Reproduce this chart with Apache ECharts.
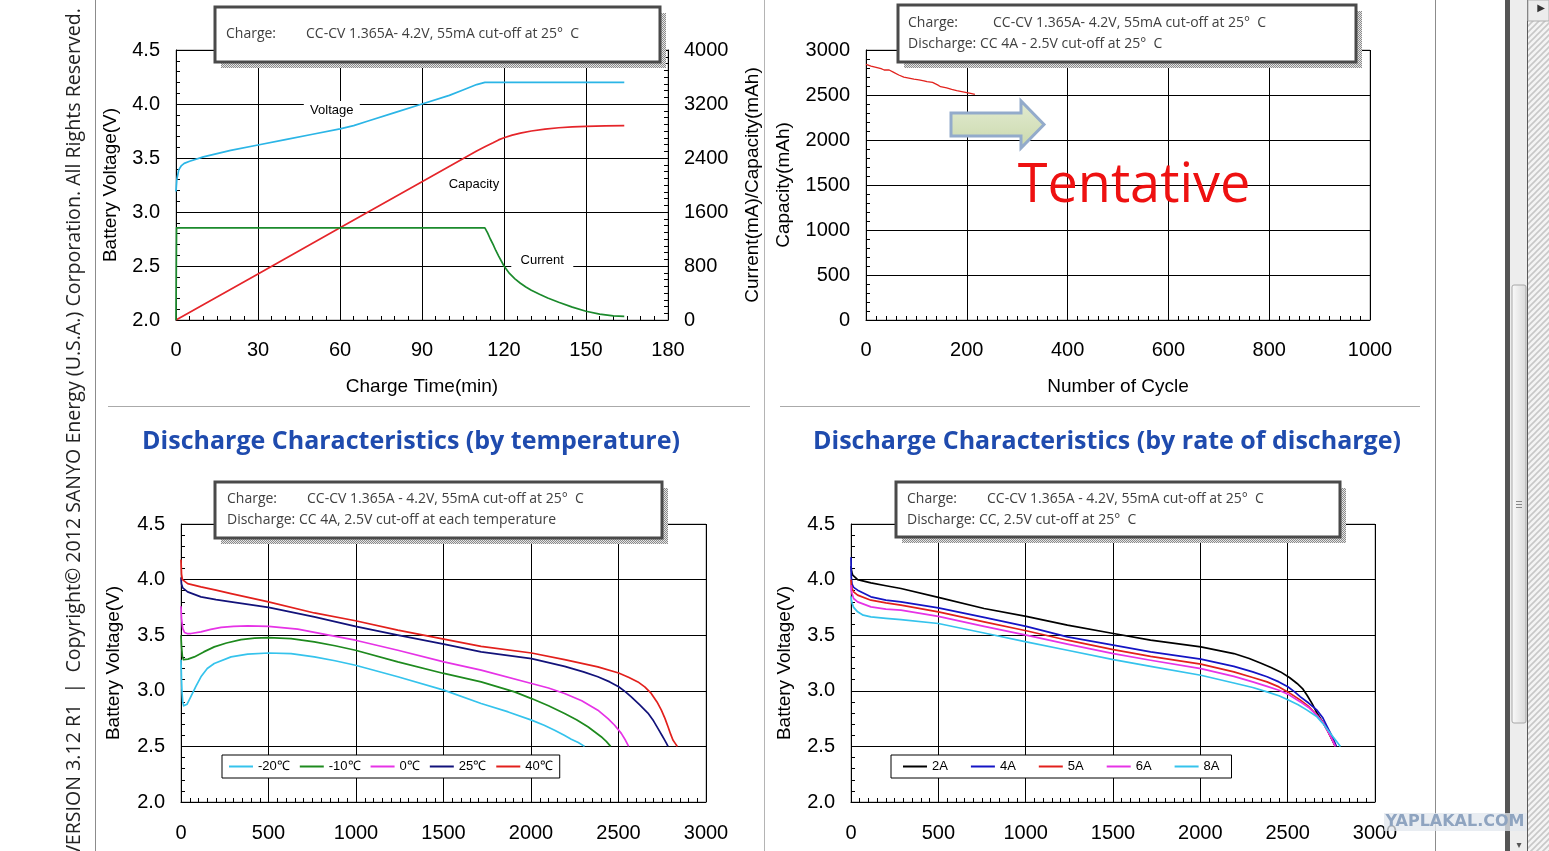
<!DOCTYPE html>
<html><head><meta charset="utf-8">
<script src="https://cdn.jsdelivr.net/npm/echarts@6/dist/echarts.min.js"></script>
<style>html,body{margin:0;padding:0;background:#fff;}#c{width:1549px;height:851px;}</style>
</head><body><div id="c"></div>
<script>
// ---------- Chart 1: charge characteristics ----------
const chargeVoltage = [[0,3.19],[0.3,3.3],[1,3.39],[2,3.43],[3,3.45],[5,3.47],[10,3.51],[20,3.57],[30,3.62],[40,3.67],[50,3.72],[60,3.77],[65,3.8],[70,3.84],[80,3.92],[90,4.0],[100,4.08],[105,4.13],[110,4.18],[113,4.2],[164,4.2]];
const chargeCapacity = [[0,0],[30,683],[60,1365],[90,2048],[110,2502],[113,2565],[116,2625],[118,2668],[120,2700],[123,2738],[126,2768],[130,2800],[135,2828],[140,2848],[145,2860],[150,2868],[157,2875],[164,2880]];
const chargeCurrent = [[0,0],[0.2,1365],[113,1365],[114,1290],[115,1200],[116,1120],[117,1030],[118,950],[120,800],[122,690],[124,610],[126,545],[128,490],[130,440],[133,380],[136,325],[140,262],[145,190],[150,130],[155,88],[160,62],[164,55]];
// ---------- Chart 2: cycle life ----------
const cycleCapacity = [[0,2840],[10,2822],[20,2808],[30,2792],[36,2778],[38,2800],[46,2778],[55,2752],[65,2722],[75,2698],[85,2688],[95,2676],[105,2668],[115,2658],[121,2648],[124,2668],[132,2640],[142,2612],[148,2592],[151,2605],[160,2578],[170,2562],[180,2548],[190,2537],[200,2526],[210,2516],[216,2508]];
// ---------- Chart 3: discharge by temperature (mAh, V) ----------
const tempNames = ['-20℃','-10℃','0℃','25℃','40℃'];
const tempM20 = [[0,3.28],[3,3.1],[6,2.98],[10,2.9],[15,2.865],[23,2.856],[35,2.88],[57,2.95],[85,3.04],[114,3.126],[150,3.2],[190,3.245],[286,3.305],[381,3.33],[500,3.34],[629,3.335],[762,3.305],[880,3.27],[997,3.23],[1239,3.126],[1502,3.006],[1715,2.886],[1870,2.81],[2003,2.736],[2075,2.69],[2135,2.645],[2190,2.6],[2230,2.565],[2270,2.535],[2306,2.5]];
const tempM10 = [[0,3.5],[3,3.4],[8,3.31],[14,3.28],[23,3.275],[40,3.285],[76,3.305],[130,3.35],[190,3.395],[260,3.43],[343,3.46],[420,3.474],[500,3.479],[629,3.47],[762,3.44],[880,3.405],[997,3.365],[1239,3.26],[1502,3.156],[1715,3.08],[1906,2.99],[2003,2.93],[2100,2.865],[2192,2.796],[2260,2.74],[2325,2.677],[2365,2.63],[2401,2.587],[2430,2.545],[2455,2.5]];
const temp0 = [[0,3.76],[3,3.65],[10,3.56],[20,3.525],[35,3.515],[57,3.515],[114,3.53],[170,3.553],[229,3.57],[300,3.58],[381,3.584],[500,3.58],[667,3.554],[830,3.505],[997,3.455],[1239,3.365],[1502,3.26],[1715,3.186],[2003,3.066],[2100,3.025],[2192,2.976],[2290,2.91],[2382,2.826],[2440,2.75],[2478,2.69],[2516,2.617],[2540,2.555],[2558,2.5]];
const temp25 = [[0,4.02],[3,3.96],[10,3.925],[38,3.89],[114,3.845],[200,3.82],[286,3.8],[500,3.75],[762,3.665],[997,3.58],[1239,3.5],[1502,3.42],[1715,3.35],[2003,3.29],[2192,3.22],[2300,3.17],[2382,3.126],[2450,3.08],[2501,3.036],[2540,2.99],[2573,2.946],[2620,2.875],[2668,2.8],[2700,2.73],[2726,2.66],[2748,2.6],[2764,2.557],[2775,2.525],[2783,2.5]];
const temp40 = [[0,4.18],[3,4.05],[8,4.0],[38,3.964],[114,3.934],[200,3.905],[286,3.874],[500,3.8],[762,3.7],[997,3.63],[1239,3.545],[1502,3.464],[1715,3.4],[2003,3.34],[2192,3.28],[2382,3.215],[2501,3.16],[2560,3.12],[2611,3.08],[2650,3.035],[2687,2.976],[2720,2.9],[2745,2.826],[2766,2.75],[2783,2.677],[2798,2.61],[2811,2.557],[2825,2.525],[2836,2.5]];
// ---------- Chart 4: discharge by rate (mAh, V) ----------
const rateNames = ['2A','4A','5A','6A','8A'];
const rate2A = [[0,4.12],[4,4.07],[10,4.04],[38,4.0],[114,3.97],[200,3.945],[286,3.92],[500,3.84],[762,3.74],[1003,3.67],[1239,3.59],[1502,3.515],[1715,3.455],[2003,3.395],[2192,3.335],[2280,3.29],[2344,3.25],[2405,3.21],[2459,3.17],[2510,3.12],[2554,3.066],[2585,3.02],[2611,2.96],[2640,2.885],[2668,2.8],[2700,2.72],[2726,2.65],[2748,2.58],[2764,2.53],[2773,2.5]];
const rate4A = [[0,4.2],[2,4.02],[6,3.96],[15,3.93],[38,3.905],[114,3.845],[200,3.815],[286,3.8],[500,3.745],[762,3.66],[1003,3.58],[1239,3.485],[1502,3.41],[1715,3.35],[2003,3.285],[2192,3.22],[2300,3.17],[2382,3.126],[2450,3.08],[2501,3.036],[2540,2.99],[2573,2.946],[2620,2.89],[2668,2.826],[2700,2.76],[2726,2.677],[2748,2.61],[2764,2.557],[2779,2.5]];
const rate5A = [[0,4.0],[2,3.95],[6,3.92],[15,3.89],[38,3.86],[114,3.815],[200,3.79],[286,3.77],[500,3.71],[762,3.62],[1003,3.54],[1239,3.455],[1502,3.37],[1715,3.31],[2003,3.24],[2192,3.17],[2300,3.12],[2382,3.08],[2450,3.035],[2501,2.99],[2573,2.916],[2620,2.86],[2668,2.78],[2700,2.72],[2726,2.647],[2752,2.57],[2773,2.5]];
const rate6A = [[0,3.95],[2,3.9],[6,3.875],[15,3.83],[38,3.8],[114,3.755],[200,3.735],[286,3.725],[500,3.67],[762,3.58],[1003,3.5],[1239,3.42],[1502,3.335],[1715,3.275],[2003,3.2],[2192,3.13],[2300,3.08],[2382,3.04],[2450,3.005],[2501,2.97],[2573,2.9],[2620,2.85],[2668,2.78],[2700,2.72],[2726,2.647],[2752,2.57],[2773,2.5]];
const rate8A = [[0,3.85],[2,3.82],[6,3.79],[15,3.75],[38,3.71],[70,3.68],[114,3.665],[200,3.652],[286,3.64],[500,3.605],[762,3.52],[1003,3.44],[1239,3.365],[1502,3.28],[1715,3.22],[2003,3.14],[2192,3.07],[2300,3.03],[2382,2.99],[2450,2.955],[2501,2.92],[2560,2.875],[2611,2.826],[2668,2.766],[2710,2.69],[2745,2.616],[2775,2.555],[2802,2.5]];

const FONT = 'Liberation Sans, Arial, sans-serif';
const NOTE = 'Open Sans, sans-serif';
const plain = v => String(v);

function axis(o) {
  const a = {
    type: 'value', gridIndex: o.grid, min: o.min, max: o.max, interval: o.interval,
    position: o.position,
    axisLine: {show: true, onZero: false, lineStyle: {color: '#000', width: 1}},
    axisTick: {show: true, inside: true, length: 6, lineStyle: {color: '#000'}},
    minorTick: {show: true, splitNumber: o.minor, length: 4, lineStyle: {color: '#000'}},
    splitLine: {show: o.split !== false, lineStyle: {color: '#000', width: 1}},
    axisLabel: {color: '#000', fontSize: 20, fontFamily: FONT, margin: o.margin || 16, formatter: o.fmt || plain},
    name: o.name, nameLocation: 'middle', nameGap: o.nameGap,
    nameTextStyle: {color: '#000', fontSize: 19, fontFamily: FONT}
  };
  if (o.vertical) a.nameRotate = 90;
  return a;
}
function pattern(draw, w, h) {
  const c = document.createElement('canvas'); c.width = w; c.height = h;
  draw(c.getContext('2d')); return {image: c, repeat: 'repeat'};
}
const dotPat = () => pattern(ctx => { ctx.fillStyle = '#e6e6e6'; ctx.fillRect(0,0,2,2); ctx.fillStyle = '#8a8a8a'; ctx.fillRect(0,0,1,1); ctx.fillRect(1,1,1,1); }, 2, 2);
const hatchPat = () => pattern(ctx => { ctx.fillStyle = '#f4f4f4'; ctx.fillRect(0,0,6,6); ctx.strokeStyle = '#c8c8c8'; ctx.lineWidth = 1.6; ctx.beginPath(); ctx.moveTo(-1,7); ctx.lineTo(7,-1); ctx.moveTo(-4,4); ctx.lineTo(4,-4); ctx.moveTo(2,10); ctx.lineTo(10,2); ctx.stroke(); }, 6, 6);

function noteBox(x, y, w, h, lines) {
  const els = [
    {type: 'rect', shape: {x: x + 6, y: y + 6, width: w, height: h}, style: {fill: dotPat()}, z: 100},
    {type: 'rect', shape: {x: x, y: y, width: w, height: h}, style: {fill: '#fff', stroke: '#4a4a4a', lineWidth: 3}, z: 101}
  ];
  lines.forEach(l => els.push({type: 'text', x: l[0], y: l[1], style: {text: l[2], fill: '#404040', font: '14px ' + NOTE, textVerticalAlign: 'middle'}, z: 102}));
  return els;
}
function line(name, data, color, xi, yi, width) {
  return {name, type: 'line', xAxisIndex: xi, yAxisIndex: yi, data, showSymbol: false, symbol: 'none',
    smooth: false, lineStyle: {color, width: width || 1.7, join: 'round'}, itemStyle: {color}, z: 3};
}
function tag(text, coord, w) {
  return {data: [{coord, symbol: 'rect', symbolSize: [w, 18], itemStyle: {color: '#fff'},
    label: {show: true, formatter: text, color: '#000', fontSize: 13, fontFamily: FONT, position: 'inside'}}], z: 4, silent: true};
}

const chart = echarts.init(document.getElementById('c'), null, {renderer: 'canvas'});
const gridBase = {show: true, borderColor: '#9a9a9a', borderWidth: 1, backgroundColor: 'transparent'};

const s0 = line('Voltage', chargeVoltage, '#2bb5e6', 0, 0); s0.markPoint = tag('Voltage', [57, 3.945], 56);
const s1 = line('Capacity', chargeCapacity, '#e5252a', 0, 1); s1.markPoint = tag('Capacity', [109, 2015], 60);
const s2 = line('Current', chargeCurrent, '#1b8a2c', 0, 1); s2.markPoint = tag('Current', [134, 889], 62);

const option = {
  animation: false,
  backgroundColor: '#fff',
  grid: [
    Object.assign({left: 176, top: 50, width: 492, height: 270}, gridBase),
    Object.assign({left: 866, top: 50, width: 504, height: 270}, gridBase),
    Object.assign({left: 181, top: 524, width: 525, height: 278}, gridBase),
    Object.assign({left: 851, top: 524, width: 524, height: 278}, gridBase)
  ],
  xAxis: [
    axis({grid: 0, min: 0, max: 180, interval: 30, minor: 6, margin: 20, name: 'Charge Time(min)', nameGap: 57, position: 'bottom'}),
    axis({grid: 1, min: 0, max: 1000, interval: 200, minor: 10, margin: 20, name: 'Number of Cycle', nameGap: 57, position: 'bottom'}),
    axis({grid: 2, min: 0, max: 3000, interval: 500, minor: 10, margin: 21, position: 'bottom'}),
    axis({grid: 3, min: 0, max: 3000, interval: 500, minor: 10, margin: 21, position: 'bottom'})
  ],
  yAxis: [
    axis({grid: 0, min: 2, max: 4.5, interval: 0.5, minor: 5, fmt: v => v.toFixed(1), name: 'Battery Voltage(V)', nameGap: 56, vertical: true, position: 'left'}),
    axis({grid: 0, min: 0, max: 4000, interval: 800, minor: 8, split: false, name: 'Current(mA)/Capacity(mAh)', nameGap: 75, vertical: true, position: 'right'}),
    axis({grid: 1, min: 0, max: 3000, interval: 500, minor: 5, name: 'Capacity(mAh)', nameGap: 73, vertical: true, position: 'left'}),
    axis({grid: 2, min: 2, max: 4.5, interval: 0.5, minor: 5, fmt: v => v.toFixed(1), name: 'Battery Voltage(V)', nameGap: 58, vertical: true, position: 'left'}),
    axis({grid: 3, min: 2, max: 4.5, interval: 0.5, minor: 5, fmt: v => v.toFixed(1), name: 'Battery Voltage(V)', nameGap: 57, vertical: true, position: 'left'})
  ],
  legend: [
    {data: tempNames, left: 222, top: 755, icon: 'rect', itemWidth: 24, itemHeight: 2, itemGap: 10, padding: [5, 7],
      borderColor: '#000', borderWidth: 1, backgroundColor: '#fff', textStyle: {color: '#000', fontSize: 13, fontFamily: FONT}, selectedMode: false},
    {data: rateNames, left: 891, top: 755, icon: 'rect', itemWidth: 24, itemHeight: 2, itemGap: 23, padding: [5, 12],
      borderColor: '#000', borderWidth: 1, backgroundColor: '#fff', textStyle: {color: '#000', fontSize: 13, fontFamily: FONT}, selectedMode: false}
  ],
  series: [
    s0, s1, s2,
    line('Cycle', cycleCapacity, '#e2231e', 1, 2, 1.3),
    line(tempNames[0], tempM20, '#35c3ec', 2, 3),
    line(tempNames[1], tempM10, '#1e8a1e', 2, 3),
    line(tempNames[2], temp0, '#e633e6', 2, 3),
    line(tempNames[3], temp25, '#12127a', 2, 3),
    line(tempNames[4], temp40, '#e2201c', 2, 3),
    line(rateNames[0], rate2A, '#000000', 3, 4),
    line(rateNames[1], rate4A, '#1414c4', 3, 4),
    line(rateNames[2], rate5A, '#e2201c', 3, 4),
    line(rateNames[3], rate6A, '#e633e6', 3, 4),
    line(rateNames[4], rate8A, '#35c3ec', 3, 4)
  ],
  graphic: {elements: [
    {type: 'rect', shape: {x: 95, y: 0, width: 1, height: 851}, style: {fill: '#8c8c8c'}},
    {type: 'rect', shape: {x: 764, y: 0, width: 1, height: 851}, style: {fill: '#b4b4b4'}},
    {type: 'rect', shape: {x: 1435, y: 0, width: 1, height: 851}, style: {fill: '#8c8c8c'}},
    {type: 'rect', shape: {x: 108, y: 406, width: 642, height: 1}, style: {fill: '#aaaaaa'}},
    {type: 'rect', shape: {x: 780, y: 406, width: 640, height: 1}, style: {fill: '#aaaaaa'}},
    {type: 'text', x: 74, y: 8, rotation: Math.PI / 2, style: {text: 'VERSION 3.12 R1  |  Copyright© 2012 SANYO Energy (U.S.A.) Corporation. All Rights Reserved.', fill: '#222', font: '19.6px ' + NOTE, textAlign: 'right', textVerticalAlign: 'middle'}},
    {type: 'text', x: 411, y: 442, style: {text: 'Discharge Characteristics (by temperature)', fill: '#1f4bae', font: 'bold 25px ' + NOTE, textAlign: 'center', textVerticalAlign: 'middle'}},
    {type: 'text', x: 1107, y: 442, style: {text: 'Discharge Characteristics (by rate of discharge)', fill: '#1f4bae', font: 'bold 25px ' + NOTE, textAlign: 'center', textVerticalAlign: 'middle'}},
    ...noteBox(215, 7, 445, 55, [[226, 34, 'Charge:'], [306, 34, 'CC-CV 1.365A- 4.2V, 55mA cut-off at 25°  C']]),
    ...noteBox(898, 5, 458, 57, [[908, 23, 'Charge:'], [993, 23, 'CC-CV 1.365A- 4.2V, 55mA cut-off at 25°  C'], [908, 44, 'Discharge: CC 4A - 2.5V cut-off at 25°  C']]),
    ...noteBox(215, 482, 447, 56, [[227, 499, 'Charge:'], [307, 499, 'CC-CV 1.365A - 4.2V, 55mA cut-off at 25°  C'], [227, 520, 'Discharge: CC 4A, 2.5V cut-off at each temperature']]),
    ...noteBox(896, 482, 444, 55, [[907, 499, 'Charge:'], [987, 499, 'CC-CV 1.365A - 4.2V, 55mA cut-off at 25°  C'], [907, 520, 'Discharge: CC, 2.5V cut-off at 25°  C']]),
    {type: 'polygon', shape: {points: [[951,113],[1021,113],[1021,101],[1044,124.5],[1021,148],[1021,136],[951,136]]},
      style: {fill: new echarts.graphic.LinearGradient(0, 0, 0, 1, [{offset: 0, color: '#e4ecd2'}, {offset: 1, color: '#c9d8ac'}]), stroke: '#93abcb', lineWidth: 3}, z: 50},
    {type: 'text', x: 1134, y: 187, style: {text: 'Tentative', fill: '#ee1111', font: '54px ' + NOTE, textAlign: 'center', textVerticalAlign: 'middle'}, z: 50},
    {type: 'rect', shape: {x: 1505, y: 0, width: 5, height: 851}, style: {fill: '#555'}},
    {type: 'rect', shape: {x: 1510, y: 0, width: 17, height: 851}, style: {fill: '#ededed'}},
    {type: 'rect', shape: {x: 1512, y: 285, width: 14, height: 438, r: 2}, style: {fill: new echarts.graphic.LinearGradient(0, 0, 1, 0, [{offset: 0, color: '#fbfbfb'}, {offset: 1, color: '#d9d9d9'}]), stroke: '#a8a8a8', lineWidth: 1}},
    {type: 'rect', shape: {x: 1516, y: 501, width: 6, height: 1}, style: {fill: '#888'}},
    {type: 'rect', shape: {x: 1516, y: 504, width: 6, height: 1}, style: {fill: '#888'}},
    {type: 'rect', shape: {x: 1516, y: 507, width: 6, height: 1}, style: {fill: '#888'}},
    {type: 'rect', shape: {x: 1527, y: 0, width: 1, height: 851}, style: {fill: '#5a5a5a'}},
    {type: 'rect', shape: {x: 1528, y: 21, width: 21, height: 830}, style: {fill: hatchPat()}},
    {type: 'rect', shape: {x: 1528, y: 0, width: 21, height: 21}, style: {fill: '#ececec', stroke: '#b0b0b0', lineWidth: 1}},
    {type: 'text', x: 1541, y: 8, style: {text: '▶', fill: '#333', font: '10px DejaVu Sans', textAlign: 'center', textVerticalAlign: 'middle'}},
    {type: 'text', x: 1519, y: 845, style: {text: '▾', fill: '#555', font: '10px DejaVu Sans', textAlign: 'center', textVerticalAlign: 'middle'}},
    {type: 'rect', shape: {x: 1384, y: 813, width: 143, height: 18}, style: {fill: 'rgba(226,231,238,0.75)'}, z: 60},
    {type: 'text', x: 1455, y: 822, style: {text: 'YAPLAKAL.COM', fill: '#8fa4c0', font: 'bold 16px DejaVu Sans', textAlign: 'center', textVerticalAlign: 'middle'}, z: 61}
  ]}
};
chart.setOption(option);
</script></body></html>
